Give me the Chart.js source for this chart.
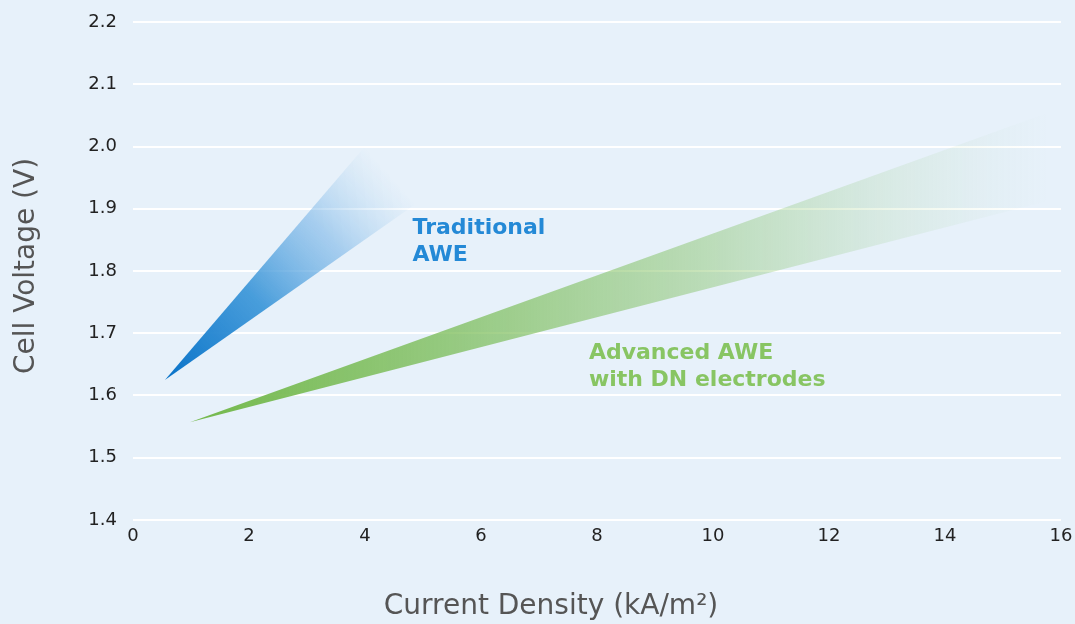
<!DOCTYPE html>
<html>
<head>
<meta charset="utf-8">
<script src="https://cdn.jsdelivr.net/npm/chart.js@4.4.1/dist/chart.umd.min.js"></script>
<style>
  html, body { margin: 0; padding: 0; background: #e7f1fa; }
  #wrap { width: 1075px; height: 624px; position: relative; }
</style>
</head>
<body>
<div id="wrap"><canvas id="awe"></canvas></div>
<script>
// wedge outlines: apex, upper end, lower end
const traditionalX = [0.55, 4.0, 4.86];
const traditionalY = [1.625, 2.0, 1.907];
const advancedX = [0.98, 16, 16];
const advancedY = [1.557, 2.062, 1.918];

const yTicks = [1.4, 1.5, 1.6, 1.7, 1.8, 1.9, 2.0, 2.1, 2.2];
const xTicks = [0, 2, 4, 6, 8, 10, 12, 14, 16];

const labels = [
  { lines: ['Traditional', 'AWE'], x: 4.82, y: 1.868, color: '#2489d6' },
  { lines: ['Advanced AWE', 'with DN electrodes'], x: 7.86, y: 1.668, color: '#88c563' }
];

const xTitle = 'Current Density (kA/m²)';
const yTitle = 'Cell Voltage (V)';

function toPoints(xs, ys) {
  return xs.map((x, i) => ({ x: x, y: ys[i] }));
}

// blue fades from the apex towards the middle of the far edge
function blueFill(context) {
  const chart = context.chart;
  if (!chart.chartArea) return 'rgba(0,0,0,0)';
  const sx = chart.scales.x, sy = chart.scales.y;
  const x0 = sx.getPixelForValue(traditionalX[0]);
  const y0 = sy.getPixelForValue(traditionalY[0]);
  const x1 = (sx.getPixelForValue(traditionalX[1]) + sx.getPixelForValue(traditionalX[2])) / 2;
  const y1 = (sy.getPixelForValue(traditionalY[1]) + sy.getPixelForValue(traditionalY[2])) / 2;
  const g = chart.ctx.createLinearGradient(x0, y0, x1, y1);
  g.addColorStop(0, 'rgba(8,114,200,1)');
  g.addColorStop(0.4, 'rgba(50,145,214,0.88)');
  g.addColorStop(0.72, 'rgba(105,172,228,0.5)');
  g.addColorStop(1, 'rgba(160,205,238,0)');
  return g;
}

// green fades left to right
function greenFill(context) {
  const chart = context.chart;
  if (!chart.chartArea) return 'rgba(0,0,0,0)';
  const sx = chart.scales.x;
  const x0 = sx.getPixelForValue(advancedX[0]);
  const x1 = sx.getPixelForValue(15.8);
  const g = chart.ctx.createLinearGradient(x0, 0, x1, 0);
  g.addColorStop(0, 'rgba(115,184,75,1)');
  g.addColorStop(0.3, 'rgba(120,187,84,0.74)');
  g.addColorStop(0.6, 'rgba(125,190,92,0.42)');
  g.addColorStop(0.82, 'rgba(135,196,110,0.14)');
  g.addColorStop(0.93, 'rgba(140,200,120,0.04)');
  g.addColorStop(1, 'rgba(140,200,120,0)');
  return g;
}

const textPlugin = {
  id: 'wedgeLabels',
  afterDatasetsDraw(chart) {
    const ctx = chart.ctx;
    const sx = chart.scales.x, sy = chart.scales.y;
    ctx.save();
    ctx.font = 'bold 22px "DejaVu Sans"';
    ctx.textAlign = 'left';
    ctx.textBaseline = 'middle';
    labels.forEach(l => {
      ctx.fillStyle = l.color;
      const px = sx.getPixelForValue(l.x);
      const py = sy.getPixelForValue(l.y);
      l.lines.forEach((t, i) => ctx.fillText(t, px, py + i * 27));
    });

    // axis titles
    ctx.font = '28px "DejaVu Sans"';
    ctx.fillStyle = '#555555';
    ctx.textAlign = 'center';
    ctx.fillText(xTitle, 551, 607);
    ctx.translate(27, 266);
    ctx.rotate(-Math.PI / 2);
    ctx.fillText(yTitle, 0, 0);
    ctx.restore();
  }
};

const tickFont = { family: 'DejaVu Sans', size: 18 };

new Chart(document.getElementById('awe'), {
  type: 'line',
  data: {
    datasets: [
      {
        label: 'Traditional AWE',
        data: toPoints(traditionalX, traditionalY),
        backgroundColor: blueFill,
        borderWidth: 0,
        pointRadius: 0,
        fill: 'shape'
      },
      {
        label: 'Advanced AWE with DN electrodes',
        data: toPoints(advancedX, advancedY),
        backgroundColor: greenFill,
        borderWidth: 0,
        pointRadius: 0,
        fill: 'shape'
      }
    ]
  },
  options: {
    responsive: true,
    maintainAspectRatio: false,
    animation: false,
    layout: { padding: { top: 22, right: 14, left: 0, bottom: 0 } },
    plugins: {
      legend: { display: false },
      tooltip: { enabled: false }
    },
    scales: {
      x: {
        type: 'linear',
        min: 0,
        max: 16,
        afterBuildTicks: axis => { axis.ticks = xTicks.map(v => ({ value: v })); },
        afterFit: axis => {
          axis.height = 104;
          axis.paddingLeft = 0;
          axis.paddingRight = 0;
        },
        grid: { display: false, drawTicks: false },
        border: { display: false },
        ticks: { font: tickFont, color: '#222', padding: 6, maxRotation: 0 }
      },
      y: {
        min: 1.4,
        max: 2.2,
        afterBuildTicks: axis => { axis.ticks = yTicks.map(v => ({ value: v })); },
        afterFit: axis => {
          axis.width = 133;
          axis.paddingTop = 0;
          axis.paddingBottom = 0;
        },
        grid: { color: '#ffffff', lineWidth: 2, drawTicks: false },
        border: { display: false },
        ticks: {
          font: tickFont,
          color: '#222',
          padding: 16,
          callback: v => v.toFixed(1)
        }
      }
    }
  },
  plugins: [textPlugin]
});
</script>
</body>
</html>
